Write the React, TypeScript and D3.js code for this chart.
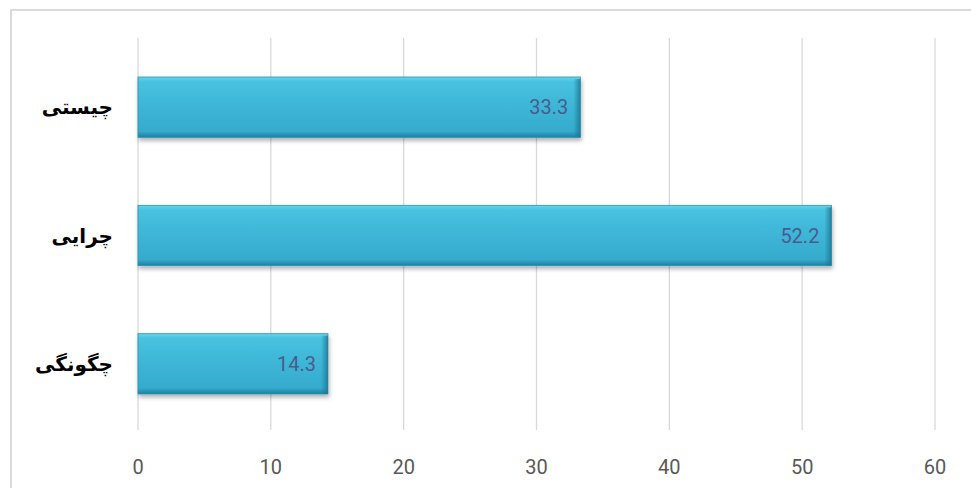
import { scaleBand, scaleLinear } from "d3";
import { useEffect } from "react";

const categories = ["چیستی", "چرایی", "چگونگی"];
const values = [33.3, 52.2, 14.3];
const xTicks = [0, 10, 20, 30, 40, 50, 60];

const width = 971;
const height = 488;
const plotLeft = 138;
const plotRight = 935;
const plotTop = 43;
const plotBottom = 428;
const gridTop = 38;
const gridBottom = 430;
const numFont = "'Liberation Sans Narrow', 'Roboto', sans-serif";

function App() {
  useEffect(() => {
    document.body.style.margin = "0";
  }, []);

  const x = scaleLinear().domain([0, 60]).range([plotLeft, plotRight]);
  const y = scaleBand<string>()
    .domain(categories)
    .range([plotTop, plotBottom])
    .paddingInner(0.53)
    .paddingOuter(0.265);
  const bh = y.bandwidth();

  return (
    <svg width={width} height={height} style={{ display: "block", background: "#fff" }}>
      <defs>
        <linearGradient id="barFill" x1="0" y1="0" x2="0" y2="1">
          <stop offset="0" stopColor="#62d6ee" />
          <stop offset="0.08" stopColor="#48c2e0" />
          <stop offset="0.5" stopColor="#3db5d6" />
          <stop offset="0.9" stopColor="#35abcd" />
          <stop offset="1" stopColor="#1d7f9e" />
        </linearGradient>
        <linearGradient id="barEdge" x1="0" y1="0" x2="1" y2="0">
          <stop offset="0" stopColor="#1a7491" stopOpacity="0" />
          <stop offset="1" stopColor="#1a7491" stopOpacity="0.8" />
        </linearGradient>
        <filter id="shadow" x="-5%" y="-20%" width="110%" height="150%">
          <feDropShadow dx="1" dy="3" stdDeviation="2" floodColor="#000" floodOpacity="0.3" />
        </filter>
      </defs>
      {/* chart frame */}
      <path d={`M11,${height} V10 H${width}`} fill="none" stroke="#d0d0d0" strokeWidth={1.5} />
      {xTicks.map((t) => (
        <g key={t}>
          <line x1={x(t)} x2={x(t)} y1={gridTop} y2={gridBottom} stroke="#d9d9d9" strokeWidth={1.3} />
          <text
            x={x(t)}
            y={474}
            textAnchor="middle"
            fontFamily={numFont}
            fontSize={20}
            fill="#595959"
          >
            {t}
          </text>
        </g>
      ))}
      {categories.map((c, i) => {
        const y0 = y(c) ?? 0;
        const x1 = x(values[i]);
        return (
          <g key={c}>
            <g filter="url(#shadow)">
              <rect x={x(0)} y={y0} width={x1 - x(0)} height={bh} fill="url(#barFill)" stroke="#2a93b3" strokeWidth={0.8} />
            </g>
            <rect x={x1 - 7} y={y0 + 2} width={7} height={bh - 2} fill="url(#barEdge)" />
            <text
              x={x1 - 12}
              y={y0 + bh / 2}
              textAnchor="end"
              dominantBaseline="central"
              fontFamily={numFont}
              fontSize={20}
              fill="#4a5c8e"
            >
              {values[i].toFixed(1)}
            </text>
            <text
              x={113}
              y={y0 + bh / 2}
              textAnchor="end"
              dominantBaseline="central"
              fontFamily="'DejaVu Sans', sans-serif"
              fontWeight="bold"
              fontSize={20}
              fill="#000"
            >
              {c}
            </text>
          </g>
        );
      })}
    </svg>
  );
}

export default App;
